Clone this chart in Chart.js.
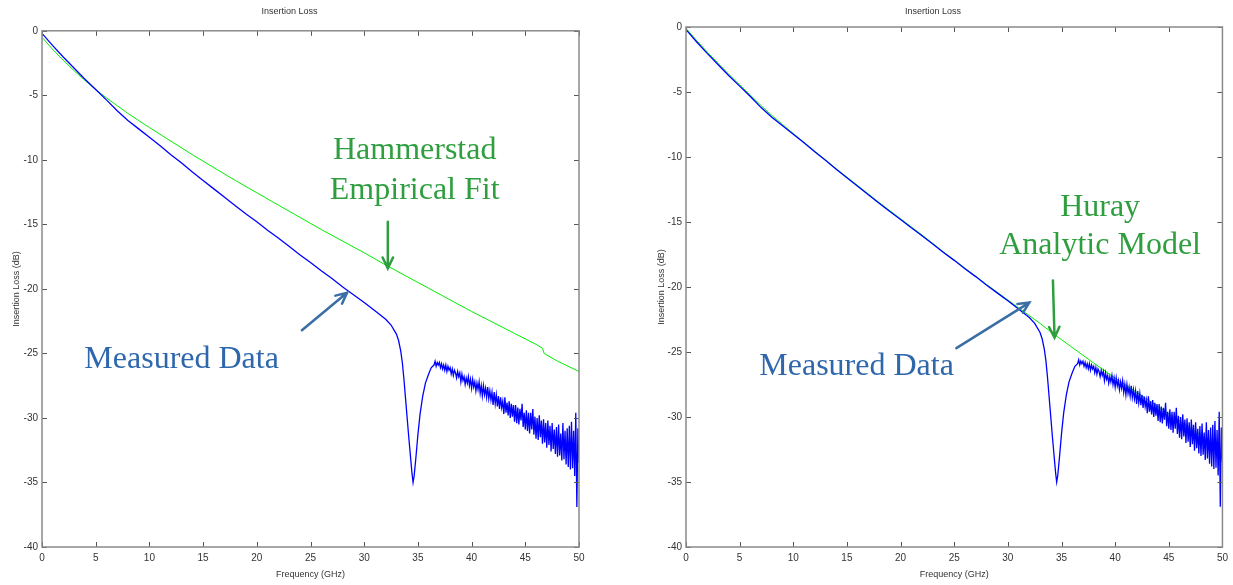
<!DOCTYPE html>
<html>
<head>
  <meta charset="UTF-8">
  <title>Insertion Loss</title>
  <script src="https://cdn.jsdelivr.net/npm/chart.js"></script>
  <style>
    body { margin: 0; background: #fff; }
    canvas { position: absolute; top: 0; }
    #leftChart { left: 0; }
    #rightChart { left: 640px; }
  </style>
</head>
<body>
  <canvas id="leftChart" width="600" height="585"></canvas>
  <canvas id="rightChart" width="593" height="585"></canvas>

  <script>
    // tick values
    const freqTicks = [0, 5, 10, 15, 20, 25, 30, 35, 40, 45, 50];
    const lossTicks = [0, -5, -10, -15, -20, -25, -30, -35, -40];

    // measured insertion loss, smooth part and the resonance dip
    const measuredFreq = [0, 1, 2, 3, 4, 5, 6, 7, 8, 9, 10, 11, 12, 13, 14, 15, 16, 17, 18, 19, 20,
      21, 22, 23, 24, 25, 26, 27, 28, 29, 30, 31, 32, 32.5, 33, 33.2, 33.4, 33.55, 33.7, 33.85,
      34.0, 34.15, 34.3, 34.45, 34.55, 34.65, 34.8, 35.0, 35.2, 35.45, 35.7, 36.0, 36.25];
    const measuredLoss = [-0.2, -1.15, -2.05, -2.9, -3.75, -4.55, -5.35, -6.2, -6.95, -7.6, -8.25,
      -8.9, -9.6, -10.25, -10.95, -11.6, -12.25, -12.9, -13.55, -14.2, -14.8,
      -15.45, -16.05, -16.7, -17.35, -17.95, -18.6, -19.2, -19.85, -20.45, -21.05, -21.7, -22.35,
      -22.8, -23.5, -24.0, -24.8, -25.7, -27.0, -28.5, -30.0, -31.5, -32.9, -34.3, -35.0, -34.5,
      -33.2, -31.3, -29.7, -28.3, -27.3, -26.6, -26.1];

    // measured noisy tail, one reading every 0.1 GHz from 36.5 GHz
    const noiseStart = 36.5;
    const noiseStep = 0.1;
    const noiseLoss = [
      -25.9, -25.6, -26.0, -25.7, -25.9,
      -25.7, -26.1, -25.8, -26.2, -25.9, -26.3, -25.9, -26.4, -26.0, -26.3,
      -26.1, -26.6, -26.2, -26.7, -26.3, -26.5, -26.9, -26.4, -26.8, -26.5,
      -27.2, -26.6, -27.1, -26.8, -27.4, -26.9, -27.3, -26.8, -27.5, -27.0,
      -27.7, -27.0, -27.6, -27.2, -27.9, -27.3, -27.8, -27.2, -28.1, -27.5,
      -28.3, -27.5, -28.2, -27.7, -28.4, -27.6, -28.5, -27.9, -28.6, -28.0,
      -29.0, -28.0, -28.9, -28.2, -29.1, -28.3, -29.3, -28.4, -29.2, -28.7,
      -29.7, -28.4, -29.6, -28.8, -29.8, -28.7, -30.0, -28.9, -29.9, -29.0,
      -30.3, -29.0, -30.4, -29.2, -30.5, -29.3, -30.2, -28.9, -30.7, -29.6,
      -30.9, -29.4, -31.0, -29.6, -31.2, -29.6, -30.9, -29.3, -31.3, -29.9,
      -31.6, -30.0, -31.7, -29.8, -31.5, -30.2, -32.0, -30.1, -31.9, -30.4,
      -32.3, -30.2, -32.1, -30.6, -32.6, -30.4, -32.4, -30.9, -32.8, -30.7,
      -33.0, -30.5, -32.9, -31.2, -33.3, -30.4, -33.2, -31.0, -33.6, -30.8,
      -33.8, -30.6, -34.0, -30.3, -33.9, -31.0, -34.5, -29.6, -36.9, -30.8,
      -33.5
    ];

    // Hammerstad empirical fit
    const hammerFreq = [0, 1, 2, 3, 4, 5, 6, 7, 8, 9, 10, 12, 14, 16, 18, 20, 22, 24, 26, 28, 30,
      32, 34, 36, 38, 40, 42, 44, 46, 46.6, 46.75, 48, 50];
    const hammerLoss = [-0.5, -1.45, -2.3, -3.1, -3.85, -4.55, -5.2, -5.8, -6.4, -6.95, -7.5,
      -8.55, -9.6, -10.6, -11.6, -12.55, -13.5, -14.45, -15.4, -16.3, -17.2,
      -18.15, -19.05, -19.95, -20.85, -21.75, -22.6, -23.45, -24.3, -24.6, -25.0, -25.6, -26.4];

    // Huray analytic model
    const hurayFreq = [0, 1, 2, 3, 4, 5, 6, 7, 8, 9, 10, 12, 14, 16, 18, 20, 22, 24, 26, 28, 30,
      31, 32, 33, 34, 35, 36, 37, 38, 40, 42, 44, 46, 48, 50];
    const hurayLoss = [-0.1, -1.05, -1.95, -2.8, -3.65, -4.45, -5.25, -6.05, -6.8, -7.5, -8.2,
      -9.55, -10.9, -12.2, -13.5, -14.75, -16.0, -17.3, -18.55, -19.8, -21.0,
      -21.6, -22.2, -22.8, -23.45, -24.05, -24.65, -25.25, -25.85, -27.0, -28.1, -29.2, -30.3,
      -31.4, -32.5];

    const pts = (xs, ys) => xs.map((f, i) => ({ x: f, y: ys[i] }));
    const measured = pts(measuredFreq, measuredLoss).concat(
      noiseLoss.map((v, i) => ({ x: +(noiseStart + i * noiseStep).toFixed(2), y: v })));

    const narrow = '"Liberation Sans Narrow", "Arial Narrow", sans-serif';
    const serif = '"Liberation Serif", "Times New Roman", serif';
    const textGreen = '#2e9e3e';
    const textBlue = '#2f67ad';

    // frame and inward tick marks, matlab style
    const boxPlugin = {
      id: 'box',
      afterDatasetsDraw(chart) {
        const { ctx, chartArea: a, scales: { x, y } } = chart;
        ctx.save();
        ctx.strokeStyle = '#555';
        ctx.lineWidth = 1;
        freqTicks.forEach(v => {
          const px = Math.round(x.getPixelForValue(v)) + 0.5;
          ctx.beginPath();
          ctx.moveTo(px, a.bottom); ctx.lineTo(px, a.bottom - 5);
          ctx.moveTo(px, a.top); ctx.lineTo(px, a.top + 5);
          ctx.stroke();
        });
        lossTicks.forEach(v => {
          const py = Math.round(y.getPixelForValue(v)) + 0.5;
          ctx.beginPath();
          ctx.moveTo(a.left, py); ctx.lineTo(a.left + 5, py);
          ctx.moveTo(a.right, py); ctx.lineTo(a.right - 5, py);
          ctx.stroke();
        });
        ctx.strokeStyle = '#8a8a8a';
        ctx.lineWidth = 1.5;
        ctx.strokeRect(a.left, a.top, a.right - a.left, a.bottom - a.top);
        ctx.restore();
      }
    };

    function drawArrow(ctx, x1, y1, x2, y2, color) {
      const ang = Math.atan2(y2 - y1, x2 - x1);
      ctx.save();
      ctx.strokeStyle = color;
      ctx.lineWidth = 2.5;
      ctx.lineCap = 'round';
      ctx.beginPath();
      ctx.moveTo(x1, y1); ctx.lineTo(x2, y2);
      ctx.moveTo(x2 - 12 * Math.cos(ang - 0.45), y2 - 12 * Math.sin(ang - 0.45));
      ctx.lineTo(x2, y2);
      ctx.lineTo(x2 - 12 * Math.cos(ang + 0.45), y2 - 12 * Math.sin(ang + 0.45));
      ctx.stroke();
      ctx.restore();
    }

    // callout text and arrows, placed in data units
    const notePlugin = {
      id: 'notes',
      afterDraw(chart) {
        const { ctx, scales: { x, y } } = chart;
        const notes = chart.options.plugins.notes;
        ctx.save();
        ctx.font = '32px ' + serif;
        ctx.textAlign = 'center';
        ctx.textBaseline = 'middle';
        notes.labels.forEach(n => {
          ctx.fillStyle = n.color;
          ctx.fillText(n.text, x.getPixelForValue(n.x), y.getPixelForValue(n.y));
        });
        ctx.restore();
        notes.arrows.forEach(r => drawArrow(ctx,
          x.getPixelForValue(r.from[0]), y.getPixelForValue(r.from[1]),
          x.getPixelForValue(r.to[0]), y.getPixelForValue(r.to[1]), r.color));
      }
    };

    function makeChart(id, model, opts) {
      return new Chart(document.getElementById(id), {
        type: 'scatter',
        data: {
          datasets: [
            // measured is drawn on top of the model line
            { data: measured, order: 0, showLine: true, borderColor: '#0000ff', borderWidth: 1.3, pointRadius: 0 },
            { data: model, order: 1, showLine: true, borderColor: '#00ee00', borderWidth: 1, pointRadius: 0 }
          ]
        },
        plugins: [boxPlugin, notePlugin],
        options: {
          responsive: false,
          animation: false,
          layout: { padding: { left: 0, right: opts.padRight, top: 0, bottom: 0 } },
          plugins: {
            legend: { display: false },
            tooltip: { enabled: false },
            title: {
              display: true, text: 'Insertion Loss', color: '#333',
              font: { family: narrow, size: 9, weight: 'normal' },
              padding: { top: opts.titleTop, bottom: opts.titleBottom }
            },
            notes: opts.notes
          },
          scales: {
            x: {
              type: 'linear', min: 0, max: 50,
              afterBuildTicks: s => { s.ticks = freqTicks.map(v => ({ value: v })); },
              afterFit: s => { s.height = 38; },
              grid: { display: false, drawTicks: false },
              border: { display: false },
              ticks: { color: '#333', padding: 5, autoSkip: false, maxRotation: 0,
                font: { family: narrow, size: 10 } },
              title: { display: true, text: 'Frequency (GHz)', color: '#333',
                font: { family: narrow, size: 9 }, padding: { bottom: 4.6 } }
            },
            y: {
              type: 'linear', min: -40, max: 0,
              afterBuildTicks: s => { s.ticks = lossTicks.map(v => ({ value: v })); },
              afterFit: s => { s.width = opts.yWidth; },
              grid: { display: false, drawTicks: false },
              border: { display: false },
              ticks: { color: '#333', padding: 4, autoSkip: false,
                font: { family: narrow, size: 10 } },
              title: { display: true, text: 'Insertion Loss (dB)', color: '#333',
                font: { family: narrow, size: 9 }, padding: { top: opts.yTitlePad } }
            }
          }
        }
      });
    }

    makeChart('leftChart', pts(hammerFreq, hammerLoss), {
      padRight: 21, yWidth: 42, titleTop: 6.6, titleBottom: 13.4, yTitlePad: 11.6,
      notes: {
        labels: [
          { text: 'Hammerstad', x: 34.7, y: -9.25, color: textGreen },
          { text: 'Empirical Fit', x: 34.7, y: -12.35, color: textGreen },
          { text: 'Measured Data', x: 13.0, y: -25.5, color: textBlue }
        ],
        arrows: [
          { from: [32.2, -14.8], to: [32.2, -18.4], color: textGreen },
          { from: [24.2, -23.2], to: [28.4, -20.3], color: '#3a6ea5' }
        ]
      }
    });

    makeChart('rightChart', pts(hurayFreq, hurayLoss), {
      padRight: 7, yWidth: 46, titleTop: 6, titleBottom: 10.2, yTitlePad: 16.6,
      notes: {
        labels: [
          { text: 'Huray', x: 38.6, y: -13.9, color: textGreen },
          { text: 'Analytic Model', x: 38.6, y: -16.8, color: textGreen },
          { text: 'Measured Data', x: 15.9, y: -26.1, color: textBlue }
        ],
        arrows: [
          { from: [34.2, -19.5], to: [34.35, -23.9], color: textGreen },
          { from: [25.2, -24.7], to: [32.0, -21.2], color: '#3a6ea5' }
        ]
      }
    });
  </script>
</body>
</html>
